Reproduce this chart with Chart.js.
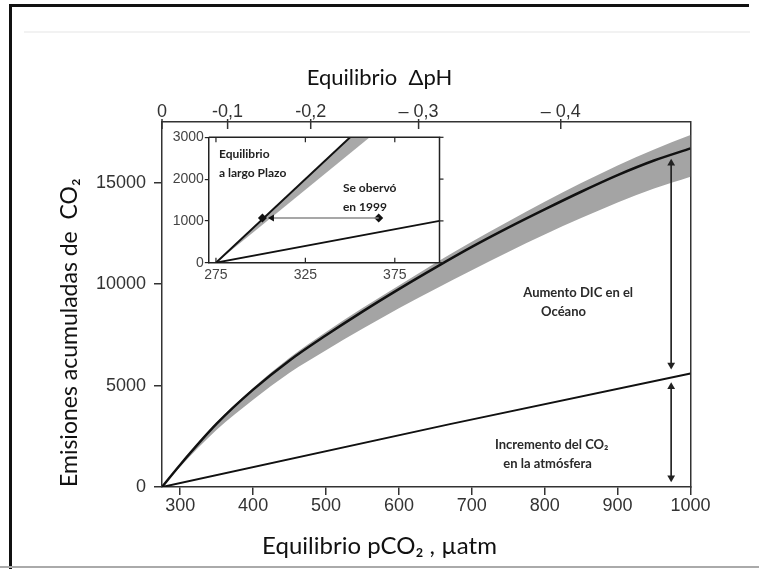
<!DOCTYPE html>
<html><head><meta charset="utf-8">
<script src="https://cdn.jsdelivr.net/npm/chart.js@4.4.1/dist/chart.umd.min.js"></script>
<style>
html,body{margin:0;padding:0;background:#fff;}
#wrap{position:relative;width:759px;height:569px;overflow:hidden;background:#fff;}
#main{position:absolute;left:0;top:0;}
#inset{position:absolute;left:150px;top:127px;}
.deco{position:absolute;}
</style></head><body>
<div id="wrap">
<div class="deco" style="left:9px;top:4px;width:3px;height:565px;background:#111"></div>
<div class="deco" style="left:9px;top:4px;width:740px;height:3px;background:#111"></div>
<div class="deco" style="left:24px;top:31px;width:726px;height:2px;background:#f2f2f2"></div>
<div class="deco" style="left:0;top:566px;width:759px;height:2px;background:#aaa"></div>
<canvas id="main" width="759" height="569"></canvas>
<canvas id="inset" width="300" height="160"></canvas>
</div>
<script>
// ---------- data ----------
const pco2 = [275,300,350,400,450,500,550,600,650,700,750,800,850,900,950,1000];
const equilibriumEmissions = [0,1100,3120,4800,6240,7480,8650,9760,10820,11840,12790,13690,14560,15380,16100,16700];
const bandLower = [0,1000,2820,4300,5640,6750,7800,8810,9770,10690,11590,12450,13260,14030,14720,15300];
const bandUpper = [0,1130,3180,4880,6370,7640,8830,9940,11050,12100,13090,14070,14990,15860,16650,17360];
const atmPco2 = [275,670,1000];
const atmEmissions = [0,3100,5600];
const arrowPco2 = 973.5;
const oceanArrowEnds = [15960,6020];
const atmArrowEnds = [4950,460];

const xTickValues = [300,400,500,600,700,800,900,1000];
const yTickValues = [0,5000,10000,15000];
const topTickPco2 = [275,365,479,627,822];
const topTickLabels = ['0','-0,1','-0,2','\u2013 0,3','\u2013 0,4'];

// inset
const insetEqPco2 = [275,350,361];
const insetEqEmissions = [0,3000,3000];
const insetBandLowPco2 = [275,361];
const insetBandLowEmissions = [0,3000];
const insetLinePco2 = [275,350];
const insetLineEmissions = [0,3000];
const insetAtmPco2 = [275,400];
const insetAtmEmissions = [0,1000];
const observedPco2 = [301,366];
const observedEmissions = [1070,1070];
const insetArrowPco2 = [366,306.3];
const insetXTicks = [275,325,375];
const insetYTicks = [0,1000,2000,3000];

const mainNotes = [
  {text:'Aumento DIC en el', x:770.6, y:9552},
  {text:'Oc\u00e9ano', x:795, y:8645},
  {text:'Incremento del CO\u2082', x:731.8, y:2071},
  {text:'en la atm\u00f3sfera', x:743.2, y:1134}
];
const insetNotes = [
  {text:'Equilibrio', x:276.7, y:2600},
  {text:'a largo Plazo', x:276.7, y:2139},
  {text:'Se oberv\u00f3', x:346, y:1780},
  {text:'en 1999', x:346, y:1340}
];

const pts = (xs, ys) => xs.map((x,i)=>({x:x, y:ys[i]}));
const numLabel = v => String(v);
const tickFont = {family:'Liberation Sans', size:18, lineHeight:1};

// ---------- main chart ----------
const mainPlugin = {
  id:'mainDecor',
  afterDraw(chart){
    const ctx = chart.ctx, x2 = chart.scales.x2, x = chart.scales.x, y = chart.scales.y;
    const top = chart.chartArea.top;
    ctx.save();
    ctx.strokeStyle = '#333'; ctx.lineWidth = 1.5;
    x2.ticks.forEach(t => {
      const px = x2.getPixelForValue(t.value);
      ctx.beginPath(); ctx.moveTo(px, top-3); ctx.lineTo(px, top+7); ctx.stroke();
    });
    ctx.fillStyle = '#2a2a2a';
    ctx.font = 'bold 13px Lato';
    ctx.textAlign = 'left'; ctx.textBaseline = 'middle';
    mainNotes.forEach(n => ctx.fillText(n.text, x.getPixelForValue(n.x), y.getPixelForValue(n.y)));
    ctx.restore();
  }
};

new Chart(document.getElementById('main'), {
  type:'line',
  data:{datasets:[
    {order:10, data:pts(pco2,bandUpper), fill:'+1', backgroundColor:'#a4a4a4', borderColor:'rgba(0,0,0,0)', borderWidth:0, pointRadius:0, cubicInterpolationMode:'monotone'},
    {order:10, data:pts(pco2,bandLower), fill:false, borderColor:'rgba(0,0,0,0)', borderWidth:0, pointRadius:0, cubicInterpolationMode:'monotone'},
    {order:2, data:pts(pco2,equilibriumEmissions), fill:false, borderColor:'#111', borderWidth:2.5, pointRadius:0, cubicInterpolationMode:'monotone'},
    {order:2, data:pts(atmPco2,atmEmissions), fill:false, borderColor:'#111', borderWidth:2, pointRadius:0},
    {order:1, data:pts([arrowPco2,arrowPco2],oceanArrowEnds), fill:false, borderColor:'#222', borderWidth:1, pointStyle:'triangle', rotation:[0,180], pointRadius:4.5, pointBackgroundColor:'#222', pointBorderWidth:0},
    {order:1, data:pts([arrowPco2,arrowPco2],atmArrowEnds), fill:false, borderColor:'#222', borderWidth:1, pointStyle:'triangle', rotation:[0,180], pointRadius:4.5, pointBackgroundColor:'#222', pointBorderWidth:0}
  ]},
  options:{
    responsive:false, animation:false, devicePixelRatio:1,
    layout:{padding:0},
    plugins:{
      legend:{display:false}, tooltip:{enabled:false},
      title:{display:true, text:'Equilibrio  \u0394pH', position:'top', color:'#111', font:{family:'Lato', size:22, weight:'normal', lineHeight:1.2}, padding:{top:64.8, bottom:0}},
      subtitle:{display:true, text:'Equilibrio pCO\u2082 , \u00b5atm', position:'bottom', color:'#111', font:{family:'Lato', size:24, weight:'normal', lineHeight:1.1}, padding:{top:0, bottom:9.3}}
    },
    scales:{
      x:{type:'linear', position:'bottom', min:275, max:1000,
        afterBuildTicks:s=>{s.ticks = xTickValues.map(v=>({value:v}));},
        afterFit:s=>{s.height = 46.3;},
        grid:{drawOnChartArea:false, drawTicks:true, tickLength:8, color:'#333', lineWidth:1.5},
        border:{display:true, color:'#333', width:1.5},
        ticks:{padding:2, font:tickFont, color:'#333', maxRotation:0, autoSkip:false, callback:numLabel}},
      x2:{type:'linear', position:'top', min:275, max:1000,
        afterBuildTicks:s=>{s.ticks = topTickPco2.map(v=>({value:v}));},
        afterFit:s=>{s.height = 30.8;},
        grid:{drawOnChartArea:false, drawTicks:false},
        border:{display:true, color:'#333', width:1.5},
        ticks:{padding:1.3, font:tickFont, color:'#333', maxRotation:0, autoSkip:false, callback:(v,i)=>topTickLabels[i]}},
      y:{type:'linear', position:'left', min:0, max:18000,
        afterBuildTicks:s=>{s.ticks = yTickValues.map(v=>({value:v}));},
        afterFit:s=>{s.width = 162;},
        grid:{drawOnChartArea:false, drawTicks:true, tickLength:8, color:'#333', lineWidth:1.5},
        border:{display:true, color:'#333', width:1.5},
        ticks:{padding:8, font:tickFont, color:'#333', autoSkip:false, callback:numLabel},
        title:{display:true, text:'Emisiones acumuladas de  CO\u2082', align:'start', color:'#111', font:{family:'Lato', size:23, lineHeight:1.2}, padding:{top:56.2, bottom:0}}},
      yR:{type:'linear', position:'right', min:0, max:18000,
        afterFit:s=>{s.width = 68.5;},
        grid:{display:false, drawTicks:false},
        border:{display:true, color:'#333', width:1.5},
        ticks:{display:false}}
    }
  },
  plugins:[mainPlugin]
});

// ---------- inset chart ----------
const insetPlugin = {
  id:'insetDecor',
  beforeDraw(chart){
    const a = chart.chartArea, ctx = chart.ctx;
    ctx.save(); ctx.fillStyle = '#fff'; ctx.fillRect(a.left, a.top, a.right-a.left, a.bottom-a.top); ctx.restore();
  },
  afterDraw(chart){
    const a = chart.chartArea, ctx = chart.ctx, x = chart.scales.x, y = chart.scales.y;
    ctx.save();
    ctx.strokeStyle = '#222'; ctx.lineWidth = 1.5;
    ctx.beginPath(); ctx.moveTo(a.left, a.top); ctx.lineTo(a.right, a.top); ctx.lineTo(a.right, a.bottom); ctx.stroke();
    ctx.lineWidth = 1.2;
    x.ticks.forEach(t => {
      const px = x.getPixelForValue(t.value);
      ctx.beginPath(); ctx.moveTo(px, a.top); ctx.lineTo(px, a.top+5); ctx.stroke();
      ctx.beginPath(); ctx.moveTo(px, a.bottom); ctx.lineTo(px, a.bottom-5); ctx.stroke();
    });
    y.ticks.forEach(t => {
      const py = y.getPixelForValue(t.value);
      ctx.beginPath(); ctx.moveTo(a.right, py); ctx.lineTo(a.right+4, py); ctx.stroke();
    });
    ctx.fillStyle = '#222';
    ctx.font = 'bold 12px Lato';
    ctx.textAlign = 'left'; ctx.textBaseline = 'middle';
    insetNotes.forEach(n => ctx.fillText(n.text, x.getPixelForValue(n.x), y.getPixelForValue(n.y)));
    ctx.restore();
  }
};
const insetFont = {family:'Liberation Sans', size:14, lineHeight:1};
new Chart(document.getElementById('inset'), {
  type:'line',
  data:{datasets:[
    {order:10, data:pts(insetEqPco2,insetEqEmissions), fill:'+1', backgroundColor:'#a8a8a8', borderColor:'rgba(0,0,0,0)', borderWidth:0, pointRadius:0},
    {order:10, data:pts(insetBandLowPco2,insetBandLowEmissions), fill:false, borderColor:'rgba(0,0,0,0)', borderWidth:0, pointRadius:0},
    {order:2, data:pts(insetLinePco2,insetLineEmissions), fill:false, borderColor:'#111', borderWidth:2, pointRadius:0},
    {order:2, data:pts(insetAtmPco2,insetAtmEmissions), fill:false, borderColor:'#111', borderWidth:1.8, pointRadius:0},
    {order:1, data:pts(insetArrowPco2,observedEmissions), fill:false, borderColor:'#8a8a8a', borderWidth:1.5, pointStyle:'triangle', rotation:[0,270], pointRadius:[0,4], pointBackgroundColor:'#111', pointBorderWidth:0},
    {order:1, data:pts(observedPco2,observedEmissions), showLine:false, fill:false, pointStyle:'rectRot', pointRadius:4.5, pointBackgroundColor:'#111', pointBorderColor:'#111', pointBorderWidth:0}
  ]},
  options:{
    responsive:false, animation:false, devicePixelRatio:1,
    layout:{padding:{top:10.3, right:10.5, left:0, bottom:0}},
    plugins:{legend:{display:false}, tooltip:{enabled:false}},
    scales:{
      x:{type:'linear', min:271, max:400,
        afterBuildTicks:s=>{s.ticks = insetXTicks.map(v=>({value:v}));},
        afterFit:s=>{s.height = 24.3;},
        grid:{drawOnChartArea:false, drawTicks:false},
        border:{display:true, color:'#222', width:1.5},
        ticks:{padding:5, font:insetFont, color:'#444', maxRotation:0, autoSkip:false, callback:numLabel}},
      y:{type:'linear', min:0, max:3000,
        afterBuildTicks:s=>{s.ticks = insetYTicks.map(v=>({value:v}));},
        afterFit:s=>{s.width = 58.8;},
        grid:{drawOnChartArea:false, drawTicks:true, tickLength:4, color:'#222', lineWidth:1.2},
        border:{display:true, color:'#222', width:1.5},
        ticks:{padding:1, font:insetFont, color:'#444', autoSkip:false, callback:numLabel}}
    }
  },
  plugins:[insetPlugin]
});
</script>
</body></html>
